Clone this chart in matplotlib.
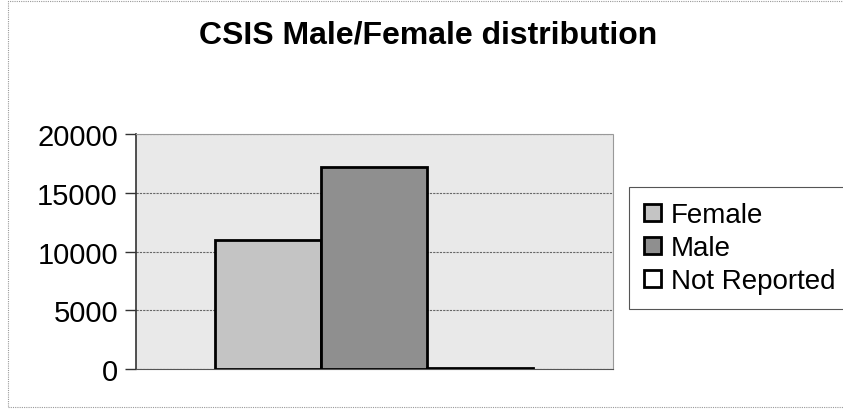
import matplotlib.pyplot as plt
from matplotlib.patches import Rectangle

categories = ['Female', 'Male', 'Not Reported']
counts = [11000, 17200, 100]
colors = ['#c4c4c4', '#8f8f8f', '#ffffff']
yticks = [0, 5000, 10000, 15000, 20000]

plt.rcParams['font.family'] = ['Liberation Sans', 'DejaVu Sans']

fig = plt.figure(figsize=(8.43, 4.10), dpi=100)
ax = fig.add_axes([136/843, 40/410, 477/843, 235/410])
ax.set_facecolor('#e9e9e9')

x = list(range(len(categories)))
for i in x:
    ax.bar(i, counts[i], width=1.0, color=colors[i], edgecolor='black',
           linewidth=2, label=categories[i], zorder=3)

ax.set_xlim(-1.24, 3.25)
ax.set_ylim(0, 20000)
ax.set_yticks(yticks)
ax.set_yticklabels([str(t) for t in yticks], fontsize=21)
ax.set_xticks([])
ax.tick_params(axis='y', direction='out', length=8, width=1, color='#333333', pad=5)
ax.yaxis.grid(True, color='#666666', linestyle=(0, (2, 1)), linewidth=0.8, zorder=1)

ax.spines['left'].set_color('#333333')
ax.spines['left'].set_linewidth(1.2)
ax.spines['bottom'].set_color('#555555')
ax.spines['bottom'].set_linestyle((0, (3, 1)))
for s in ['top', 'right']:
    ax.spines[s].set_color('#999999')
    ax.spines[s].set_linestyle((0, (1, 1)))
    ax.spines[s].set_linewidth(0.8)

fig.suptitle('CSIS Male/Female distribution', x=428/843, y=1-20/410,
             fontsize=23, fontweight='bold', va='top')

leg = fig.legend(loc='upper left',
                 bbox_to_anchor=(629/843, 1-188/410, 1-629/843 + 0.02, 0.0),
                 mode='expand', borderaxespad=0, fontsize=20,
                 handlelength=0.6, handleheight=0.6, handletextpad=0.35,
                 labelspacing=0.25, borderpad=0.55,
                 fancybox=False, edgecolor='#555555', framealpha=1)
leg.get_frame().set_linewidth(0.8)

# dotted chart border
fig.patches.append(Rectangle((8/843, 0.005), 1.0, 0.99, transform=fig.transFigure,
                             fill=False, edgecolor='#999999', linestyle=(0, (1, 1)),
                             linewidth=0.8))

plt.savefig('out.png', dpi=100)
